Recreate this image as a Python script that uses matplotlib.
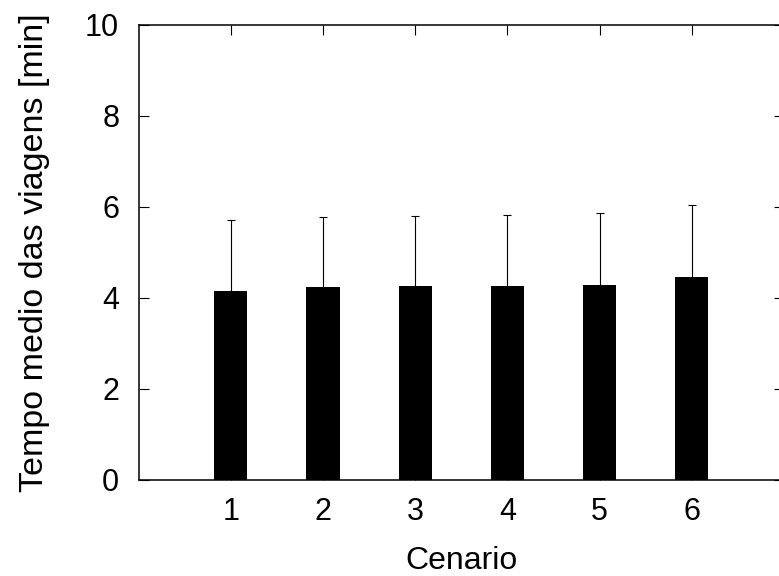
import matplotlib
matplotlib.use('Agg')
import matplotlib.pyplot as plt

plt.rcParams['font.family'] = ['Liberation Sans', 'DejaVu Sans']

cenarios = [1, 2, 3, 4, 5, 6]
tempo_medio = [4.15, 4.23, 4.26, 4.27, 4.29, 4.47]
desvio = [1.56, 1.54, 1.54, 1.56, 1.58, 1.58]

fig = plt.figure(figsize=(7.79, 5.76), dpi=100)
ax = fig.add_axes([0.178, 0.1667, 0.8284, 0.79])

ax.bar(cenarios, tempo_medio, width=0.36, color='black', zorder=3,
       yerr=desvio,
       error_kw=dict(ecolor='black', elinewidth=0.8, capsize=2.6, capthick=0.8, zorder=2))

ax.set_xlim(0, 7)
ax.set_ylim(0, 10)
ax.set_xticks(cenarios)
ax.set_yticks([0, 2, 4, 6, 8, 10])
ax.tick_params(direction='in', length=7, width=0.8, labelsize=22,
               top=True, right=True)
ax.tick_params(axis='y', pad=14)
ax.tick_params(axis='x', pad=12)
for s in ax.spines.values():
    s.set_linewidth(1.1)

ax.set_xlabel('Cenario', fontsize=23, labelpad=14)
ax.set_ylabel('Tempo medio das viagens [min]', fontsize=24.5, labelpad=25)

fig.savefig('out.png', dpi=100)
